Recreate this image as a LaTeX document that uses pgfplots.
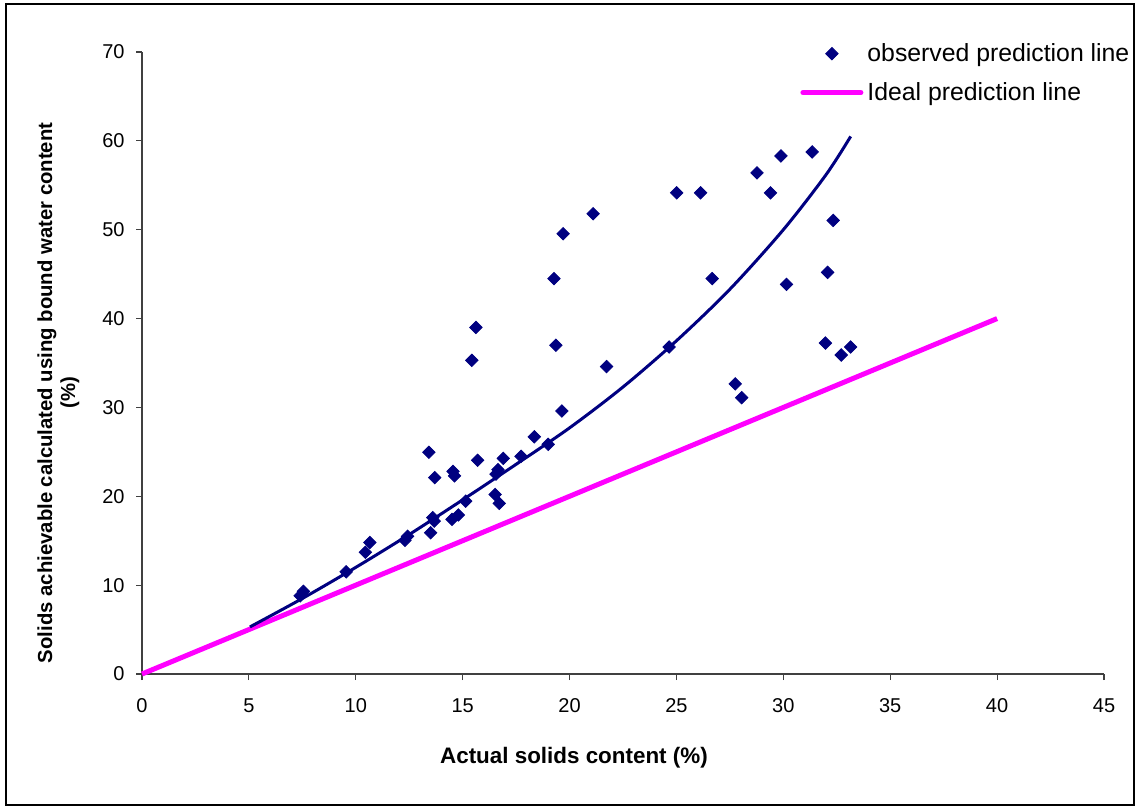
\documentclass[border=0pt]{standalone}
\usepackage{fontspec}
\setmainfont{Liberation Sans}
\usepackage{pgfplots}
\pgfplotsset{compat=1.18}
\definecolor{navy}{HTML}{000080}
\definecolor{mag}{HTML}{FF00FF}

\pgfplotsset{
  legmark/.style={legend image code/.code={\draw[##1] plot coordinates {(14.5pt,0pt)};}},
  legline/.style={legend image code/.code={\draw[##1, line cap=round] (0pt,0pt) -- (29pt,0pt);}},
}

\begin{document}
\begin{tikzpicture}
\begin{axis}[
    at={(0,0)}, anchor=south west,
    scale only axis, width=481pt, height=311pt,
    xmin=0, xmax=45, ymin=0, ymax=70,
    xtick={0,5,...,45}, ytick={0,10,...,70},
    axis lines*=left, clip=false,
    axis line style={black!75, line width=0.6pt},
    tick style={black!75, line width=0.6pt},
    tick align=outside, major tick length=3pt,
    /pgf/number format/assume math mode=true,
    ticklabel style={font=\fontsize{10}{11}\selectfont},
    yticklabel style={inner sep=0pt, xshift=-5.5pt},
    xticklabel style={inner sep=0pt, yshift=-9pt},
    xlabel={Actual solids content (\%)},
    xlabel style={font=\fontsize{11.2}{13}\selectfont\bfseries,
                  at={(rel axis cs:0.449,-0.135)}, anchor=center},
    ylabel={Solids achievable calculated using bound water content\\(\%)},
    ylabel style={align=center, font=\fontsize{10.15}{11.5}\selectfont\bfseries,
                  at={(rel axis cs:-0.0868,0.452)}, anchor=center},
    legend cell align=left,
    legend style={draw=none, fill=none, inner sep=0pt,
                  at={(rel axis cs:0.684,0.966)}, anchor=west,
                  font=\fontsize{12.4}{14}\selectfont, row sep=5pt},
  ]
  % observed points
  \addplot[only marks, mark=square*, mark size=2.2pt, navy,
           mark options={rotate=45, draw=navy, fill=navy}, legmark]
    coordinates {
    (7.4,8.8)(7.55,9.3)(9.55,11.5)(10.45,13.7)(10.66,14.8)
    (12.3,15.05)(12.42,15.5)(13.42,24.95)(13.5,15.9)(13.6,17.6)
    (13.67,17.2)(13.69,22.1)(14.5,17.4)(14.55,22.8)(14.62,22.3)
    (14.8,17.9)(15.14,19.45)(15.43,35.3)(15.62,39.0)(15.7,24.05)
    (16.52,20.2)(16.56,22.5)(16.65,23.0)(16.71,19.2)(16.9,24.27)
    (17.73,24.5)(18.35,26.7)(19.0,25.85)(19.27,44.5)(19.36,37.0)
    (19.64,29.6)(19.7,49.55)(21.1,51.8)(21.73,34.6)(24.66,36.8)
    (25.01,54.15)(26.13,54.15)(26.67,44.5)(27.75,32.65)(28.05,31.1)
    (28.77,56.4)(29.4,54.15)(29.89,58.3)(30.15,43.85)(31.35,58.75)
    (31.97,37.25)(32.07,45.2)(32.33,51.05)(32.71,35.9)(33.15,36.8)
  };
  \addlegendentry{observed prediction line}
  % ideal line
  \addplot[mag, line width=2.5pt, legline]
    coordinates {(0,0)(40,40)};
  \addlegendentry{Ideal prediction line}
  % trend curve
  \addplot[navy, line width=1.5pt, smooth, forget plot]
    coordinates {
    (5.05,5.3)(7.5,8.5)(10,12.0)(12.5,15.7)(15,19.6)(17.5,23.6)
    (20,27.7)(22.5,32.3)(25,37.5)(27.5,43.3)(30,50.0)(32,56.2)(33.15,60.5)
  };
\end{axis}
\draw[black, line width=0.7pt] (-68pt,-65.5pt) rectangle (496pt,335pt);
\path (-71pt,-66.5pt) rectangle (498pt,337pt);
\end{tikzpicture}
\end{document}
